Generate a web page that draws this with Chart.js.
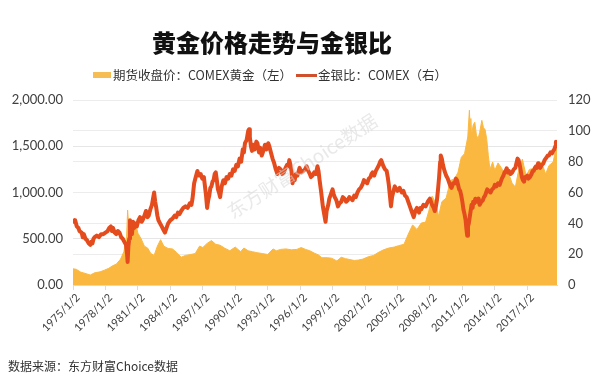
<!DOCTYPE html>
<html>
<head>
<meta charset="utf-8">
<script src="https://cdn.jsdelivr.net/npm/chart.js@4"></script>
<style>
  body { margin: 0; background: #fff; }
  #wrap { position: relative; width: 600px; height: 377px; overflow: hidden; font-family: "Noto Sans CJK SC", sans-serif; }
  #chart { position: absolute; left: 0; top: 0; }
  .title { position: absolute; left: 152px; top: 26px; width: 222px; text-align: center; font-size: 24px; font-weight: 900; color: #111; line-height: 32px; white-space: nowrap; }
  .legend { position: absolute; top: 66px; font-size: 12.5px; color: #333; line-height: 18px; white-space: nowrap; }
  .swatch-area { position: absolute; left: 93px; top: 72px; width: 18px; height: 6px; background: #f6bd55; }
  .swatch-line { position: absolute; left: 296px; top: 74px; width: 21px; height: 3px; background: #d0502e; }
  .source { position: absolute; left: 8px; top: 358px; font-size: 12px; color: #333; line-height: 16px; white-space: nowrap; }
</style>
</head>
<body>
<div id="wrap">
  <canvas id="chart" width="600" height="377"></canvas>
  <div class="title">黄金价格走势与金银比</div>
  <div class="swatch-area"></div>
  <div class="legend" style="left:113px">期货收盘价：COMEX黄金（左）</div>
  <div class="swatch-line"></div>
  <div class="legend" style="left:318px">金银比：COMEX（右）</div>
  <div class="source">数据来源：东方财富Choice数据</div>
</div>
<script>
// x axis ticks (every 3 years)
var tickYears = [1975, 1978, 1981, 1984, 1987, 1990, 1993, 1996, 1999, 2002, 2005, 2008, 2011, 2014, 2017];
var tickLabels = ['1975/1/2', '1978/1/2', '1981/1/2', '1984/1/2', '1987/1/2', '1990/1/2', '1993/1/2', '1996/1/2',
                  '1999/1/2', '2002/1/2', '2005/1/2', '2008/1/2', '2011/1/2', '2014/1/2', '2017/1/2'];

// COMEX gold close (left axis)
var goldYears = [1975.0, 1975.3, 1975.7, 1976.0, 1976.6, 1977.0, 1977.5, 1977.9, 1978.3, 1978.7, 1979.0, 1979.4, 1979.7, 1979.95,
  1980.05, 1980.15, 1980.25, 1980.5, 1980.75, 1981.0, 1981.3, 1981.6, 1981.9, 1982.2, 1982.5, 1982.8, 1983.1, 1983.4, 1983.8,
  1984.2, 1984.6, 1985.0, 1985.4, 1985.9, 1986.3, 1986.7, 1987.0, 1987.4, 1987.8, 1988.2, 1988.6, 1989.0, 1989.5, 1990.0,
  1990.5, 1990.8, 1991.2, 1991.6, 1992.0, 1992.5, 1993.0, 1993.5, 1993.8, 1994.2, 1994.7, 1995.2, 1995.7, 1996.1, 1996.5,
  1996.9, 1997.3, 1997.7, 1998.0, 1998.5, 1998.9, 1999.4, 1999.8, 2000.2, 2000.6, 2001.0, 2001.4, 2001.8, 2002.3, 2002.8,
  2003.2, 2003.7, 2004.2, 2004.7, 2005.1, 2005.6, 2006.0, 2006.4, 2006.8, 2007.2, 2007.6, 2007.9, 2008.2, 2008.6, 2008.8,
  2009.1, 2009.5, 2009.9, 2010.3, 2010.6, 2010.9, 2011.2, 2011.5, 2011.65, 2011.72, 2011.78, 2011.85, 2012.0, 2012.15,
  2012.3, 2012.45, 2012.6, 2012.8, 2012.95, 2013.1, 2013.25, 2013.4,
  2013.55, 2013.8, 2014.0, 2014.3, 2014.7, 2015.0, 2015.3, 2015.6, 2015.9, 2016.2, 2016.55, 2016.9, 2017.2, 2017.6, 2017.9,
  2018.1, 2018.4, 2018.7, 2019.0, 2019.4, 2019.6, 2019.75];
var goldPrice = [175, 170, 140, 130, 108, 132, 142, 160, 180, 210, 225, 280, 360, 500,
  810, 640, 500, 620, 680, 560, 500, 420, 400, 340, 320, 420, 490, 420, 395,
  390, 350, 300, 320, 330, 340, 420, 405, 450, 480, 440, 430, 400, 370, 410,
  360, 400, 370, 360, 350, 340, 330, 390, 370, 385, 390, 380, 385, 405, 385,
  370, 345, 325, 295, 295, 290, 260, 300, 285, 275, 265, 270, 280, 305, 320,
  350, 380, 400, 410, 425, 440, 550, 650, 600, 670, 680, 800, 960, 880, 740,
  900, 940, 1130, 1150, 1220, 1380, 1420, 1600, 1890, 1700, 1800, 1620, 1730, 1760,
  1620, 1580, 1650, 1780, 1700, 1680, 1580, 1400,
  1250, 1330, 1240, 1320, 1250, 1200, 1200, 1100, 1060, 1240, 1360, 1180, 1250, 1260, 1290,
  1340, 1300, 1200, 1290, 1330, 1450, 1480];

// gold/silver ratio (right axis)
var ratioYears = [
  1975.0, 1975.1, 1975.2, 1975.35, 1975.5, 1975.6, 1975.8, 1975.9, 1976.0, 1976.15,
  1976.3, 1976.45, 1976.6, 1976.7, 1976.8, 1976.9, 1977.0, 1977.2, 1977.4, 1977.6,
  1977.8, 1978.0, 1978.2, 1978.35, 1978.5, 1978.6, 1978.7, 1978.85, 1979.0, 1979.15,
  1979.3, 1979.45, 1979.6, 1979.75, 1979.9, 1980.0, 1980.05, 1980.12, 1980.2, 1980.27,
  1980.35, 1980.45, 1980.55, 1980.65, 1980.75, 1980.9, 1981.05, 1981.2, 1981.35, 1981.5,
  1981.65, 1981.75, 1981.9, 1982.0, 1982.15, 1982.3, 1982.4, 1982.5, 1982.6, 1982.7,
  1982.8, 1982.9, 1983.05, 1983.2, 1983.35, 1983.5, 1983.65, 1983.8, 1984.0, 1984.2,
  1984.4, 1984.55, 1984.7, 1984.85, 1985.0, 1985.2, 1985.4, 1985.6, 1985.8, 1985.95,
  1986.05, 1986.2, 1986.35, 1986.5, 1986.65, 1986.8, 1986.95, 1987.1, 1987.2, 1987.3,
  1987.4, 1987.5, 1987.6, 1987.7, 1987.8, 1987.9, 1988.0, 1988.1, 1988.2, 1988.3,
  1988.4, 1988.5, 1988.6, 1988.75, 1988.9, 1989.05, 1989.2, 1989.35, 1989.5, 1989.65,
  1989.8, 1989.95, 1990.1, 1990.25, 1990.4, 1990.55, 1990.7, 1990.8, 1990.9, 1991.05,
  1991.2, 1991.28, 1991.35, 1991.45, 1991.55, 1991.65, 1991.8, 1991.95, 1992.05, 1992.2,
  1992.3, 1992.45, 1992.6, 1992.75, 1992.9, 1993.05, 1993.15, 1993.3, 1993.45, 1993.6,
  1993.75, 1993.9, 1994.05, 1994.2, 1994.35, 1994.5, 1994.65, 1994.8, 1994.9, 1995.0,
  1995.1, 1995.2, 1995.3, 1995.4, 1995.5, 1995.6, 1995.75, 1995.95, 1996.1, 1996.3,
  1996.45, 1996.6, 1996.75, 1996.9, 1997.0, 1997.15, 1997.3, 1997.45, 1997.6, 1997.7,
  1997.8, 1997.95, 1998.1, 1998.2, 1998.35, 1998.45, 1998.6, 1998.7, 1998.8, 1998.9,
  1999.0, 1999.1, 1999.2, 1999.35, 1999.5, 1999.65, 1999.8, 1999.95, 2000.1, 2000.25,
  2000.4, 2000.55, 2000.7, 2000.85, 2001.0, 2001.15, 2001.3, 2001.45, 2001.6, 2001.75,
  2001.9, 2002.05, 2002.2, 2002.35, 2002.5, 2002.6, 2002.7, 2002.85, 2003.0, 2003.15,
  2003.3, 2003.4, 2003.5, 2003.6, 2003.7, 2003.85, 2004.0, 2004.1, 2004.2, 2004.3,
  2004.4, 2004.5, 2004.6, 2004.75, 2004.9, 2005.0, 2005.2, 2005.4, 2005.55, 2005.7,
  2005.85, 2006.0, 2006.15, 2006.3, 2006.4, 2006.5, 2006.65, 2006.8, 2006.9, 2007.0,
  2007.1, 2007.2, 2007.4, 2007.6, 2007.8, 2008.0, 2008.1, 2008.2, 2008.35, 2008.45,
  2008.55, 2008.65, 2008.75, 2008.85, 2008.95, 2009.0, 2009.1, 2009.2, 2009.35, 2009.5,
  2009.65, 2009.8, 2009.9, 2010.0, 2010.15, 2010.3, 2010.4, 2010.5, 2010.6, 2010.7,
  2010.8, 2010.9, 2011.0, 2011.1, 2011.2, 2011.3, 2011.38, 2011.45, 2011.52, 2011.6,
  2011.7, 2011.85, 2011.95, 2012.0, 2012.1, 2012.2, 2012.3, 2012.4, 2012.5, 2012.6,
  2012.75, 2012.9, 2013.0, 2013.1, 2013.2, 2013.3, 2013.45, 2013.6, 2013.75, 2013.9,
  2014.0, 2014.15, 2014.3, 2014.45, 2014.65, 2014.8, 2014.9, 2015.0, 2015.1, 2015.2,
  2015.3, 2015.45, 2015.6, 2015.75, 2015.9, 2016.0, 2016.1, 2016.2, 2016.3, 2016.4,
  2016.5, 2016.6, 2016.7, 2016.8, 2016.9, 2017.0, 2017.1, 2017.25, 2017.4, 2017.5,
  2017.6, 2017.7, 2017.8, 2017.9, 2018.0, 2018.1, 2018.2, 2018.35, 2018.5, 2018.6,
  2018.7, 2018.8, 2018.9, 2019.0, 2019.15, 2019.3, 2019.4, 2019.5, 2019.6, 2019.65, 2019.75];
var ratioValues = [
  43, 41, 42, 38, 37, 35, 34, 31, 33, 30,
  29, 27, 26, 28, 27, 30, 31, 32, 31, 33,
  33, 34, 35, 37, 38, 35, 37, 34, 33, 35,
  34, 31, 30, 28, 26, 20, 15, 25, 30, 42,
  36, 33, 41, 37, 40, 38, 42, 44, 41, 43,
  46, 48, 44, 45, 49, 52, 56, 60, 54, 50,
  45, 42, 40, 38, 36, 34, 37, 40, 42, 43,
  45, 44, 47, 46, 48, 50, 51, 50, 53, 52,
  56, 66, 70, 74, 71, 72, 69, 70, 64, 58,
  50, 55, 58, 63, 64, 67, 68, 72, 73, 68,
  62, 60, 57, 64, 68, 66, 70, 69, 72, 71,
  75, 74, 78, 77, 82, 80, 88, 86, 92, 94,
  100, 101, 96, 90, 87, 91, 88, 93, 92, 86,
  89, 84, 87, 91, 88, 92, 90, 86, 82, 79,
  75, 72, 76, 75, 72, 73, 76, 78, 77, 81,
  78, 74, 66, 70, 68, 72, 71, 76, 73, 74,
  75, 77, 74, 72, 70, 71, 73, 72, 77, 74,
  68, 60, 51, 47, 41, 48, 52, 56, 58, 60,
  62, 59, 57, 55, 51, 53, 54, 57, 56, 54,
  55, 57, 56, 55, 58, 57, 60, 62, 63, 65,
  68, 67, 66, 69, 70, 72, 73, 71, 74, 76,
  78, 80, 81, 79, 77, 75, 74, 70, 65, 58,
  51, 57, 60, 64, 62, 61, 63, 60, 61, 58,
  57, 54, 51, 48, 46, 44, 48, 50, 48, 47,
  50, 49, 52, 51, 54, 56, 54, 52, 50, 48,
  51, 55, 62, 70, 80, 84, 82, 78, 74, 71,
  69, 66, 64, 63, 66, 66, 69, 68, 65, 62,
  61, 58, 54, 49, 46, 42, 36, 32, 38, 40,
  45, 52, 50, 54, 53, 56, 55, 54, 56, 52,
  54, 55, 57, 58, 60, 62, 61, 60, 62, 63,
  65, 64, 66, 65, 69, 71, 73, 74, 75.7, 73,
  74, 72, 73, 75, 76, 79, 82, 81, 78, 74,
  70, 68, 67, 70, 70, 71, 69, 70, 72, 74,
  74, 76, 77, 76, 79, 78, 76, 78, 79, 81,
  82, 83, 84, 84, 86, 85.4, 87, 88, 90, 93, 90];

function toPoints(xs, ys) {
  return xs.map(function(x, i) { return { x: x, y: ys[i] }; });
}

// faint diagonal watermark over the plot
var watermark = {
  id: 'watermark',
  afterDatasetsDraw: function(chart) {
    var ctx = chart.ctx;
    ctx.save();
    ctx.translate(302, 166);
    ctx.rotate(-33 * Math.PI / 180);
    ctx.font = '19px "Noto Sans CJK SC", sans-serif';
    ctx.fillStyle = 'rgba(215,215,215,0.55)';
    ctx.textAlign = 'center';
    ctx.textBaseline = 'middle';
    ctx.fillText('东方财富Choice数据', 0, 0);
    ctx.restore();
  }
};

var tickFont = { family: 'Lato, "Open Sans", sans-serif', size: 13 };

new Chart(document.getElementById('chart'), {
  type: 'line',
  data: {
    datasets: [
      {
        label: '金银比：COMEX（右）',
        data: toPoints(ratioYears, ratioValues),
        yAxisID: 'y1',
        borderColor: 'rgb(228,76,30)',
        borderWidth: 4,
        borderJoinStyle: 'round',
        pointRadius: 0,
        fill: false,
        order: 0
      },
      {
        label: '期货收盘价：COMEX黄金（左）',
        data: toPoints(goldYears, goldPrice),
        yAxisID: 'y',
        borderColor: 'rgb(251,184,64)',
        backgroundColor: 'rgb(251,184,64)',
        borderWidth: 1,
        pointRadius: 0,
        fill: 'origin',
        order: 1
      }
    ]
  },
  options: {
    responsive: false,
    animation: false,
    layout: { padding: { top: 100, left: 0, right: 0, bottom: 0 } },
    plugins: { legend: { display: false }, title: { display: false }, tooltip: { enabled: false } },
    scales: {
      x: {
        type: 'linear',
        min: 1975,
        max: 2019.75,
        afterFit: function(scale) { scale.height = 92; },
        afterBuildTicks: function(scale) {
          scale.ticks = tickYears.map(function(v) { return { value: v }; });
        },
        ticks: {
          minRotation: 45,
          maxRotation: 45,
          autoSkip: false,
          padding: 1,
          labelOffset: 5,
          color: '#404040',
          font: { family: 'Lato, "Open Sans", sans-serif', size: 11 },
          callback: function(v) { return tickLabels[tickYears.indexOf(v)]; }
        },
        grid: { drawOnChartArea: false, tickLength: 5, color: '#dcdcdc' },
        border: { color: '#d9d9d9' }
      },
      y: {
        position: 'left',
        min: 0,
        max: 2000,
        afterFit: function(scale) { scale.width = 73; },
        ticks: {
          stepSize: 500,
          padding: 10,
          color: '#404040',
          font: tickFont,
          callback: function(v) { return v.toLocaleString('en-US', { minimumFractionDigits: 2, maximumFractionDigits: 2 }); }
        },
        grid: { color: '#e6e6e6', drawTicks: false },
        border: { display: false }
      },
      y1: {
        position: 'right',
        min: 0,
        max: 120,
        afterFit: function(scale) { scale.width = 43; },
        ticks: { stepSize: 20, padding: 11, color: '#404040', font: tickFont },
        grid: { color: '#ececec', drawTicks: false },
        border: { display: false }
      }
    }
  },
  plugins: [watermark]
});
</script>
</body>
</html>
